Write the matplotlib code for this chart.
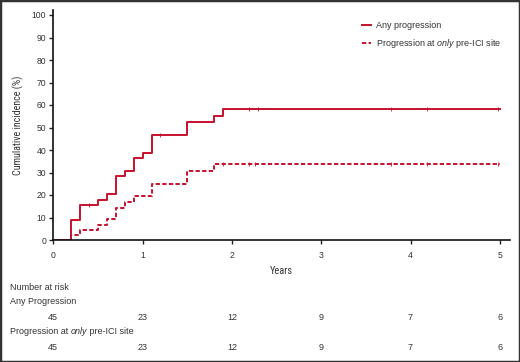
import matplotlib
matplotlib.use("Agg")
import matplotlib.pyplot as plt
from matplotlib.patches import Rectangle
from matplotlib.lines import Line2D
from matplotlib import font_manager

# cumulative incidence curves (step after each time)
any_times = [0, 0.2, 0.3, 0.5, 0.6, 0.7, 0.8, 0.9, 1.0, 1.1, 1.5, 1.8, 1.9, 5.0]
any_inc = [0, 8.9, 15.6, 17.8, 20.4, 28.3, 30.7, 36.3, 38.7, 46.7, 52.4, 55.2, 58.3, 58.3]
only_times = [0, 0.2, 0.3, 0.5, 0.6, 0.7, 0.8, 0.9, 1.1, 1.5, 1.8, 5.0]
only_inc = [0, 2.2, 4.4, 6.7, 9.3, 14.4, 17.1, 19.7, 24.9, 30.6, 33.6, 33.6]

# censoring marks
any_cens = [0.4, 1.2, 2.19, 2.29, 3.78, 4.18, 4.98]
only_cens = [1.9, 2.19, 2.26, 3.78, 4.18, 4.98]

risk_years = [0, 1, 2, 3, 4, 5]
risk_any = [45, 23, 12, 9, 7, 6]
risk_only = [45, 23, 12, 9, 7, 6]

RED = "#c8102e"
TXT = "#333333"
FONT = "Liberation Sans"
names = {f.name for f in font_manager.fontManager.ttflist}
NARROW = FONT
for cand in ["Roboto Condensed", "Open Sans Condensed", "Barlow Semi Condensed", "Barlow Condensed"]:
    if cand in names:
        NARROW = cand
        break

plt.rcParams["font.family"] = [FONT, "DejaVu Sans"]
plt.rcParams["mathtext.fontset"] = "custom"
plt.rcParams["mathtext.rm"] = FONT
plt.rcParams["mathtext.it"] = FONT + ":italic"


def value_at(times, vals, t):
    v = vals[0]
    for tt, vv in zip(times, vals):
        if tt <= t:
            v = vv
    return v


def chain_text(fig, x, y, parts, **kw):
    """ Writes text pieces one after another, each with its own style """
    renderer = fig.canvas.get_renderer()
    px = x * fig.bbox.width
    for s, style in parts:
        t = fig.text(px / fig.bbox.width, y, s, style=style, **kw)
        px = t.get_window_extent(renderer).x1


fig = plt.figure(figsize=(5.2, 3.62), dpi=100)
ax = fig.add_axes([53.3 / 520, 122 / 362, (510 - 53.3) / 520, (240 - 10) / 362])

dash = (0, (2.2, 1.2))
ax.step(any_times, any_inc, where="post", color=RED, lw=1.4)
ax.step(only_times, only_inc, where="post", color=RED, lw=1.4, ls=dash)
ax.plot(any_cens, [value_at(any_times, any_inc, t) for t in any_cens],
        ls="none", marker="|", ms=2.2, mew=0.6, color=RED)
ax.plot(only_cens, [value_at(only_times, only_inc, t) for t in only_cens],
        ls="none", marker="|", ms=2.2, mew=0.6, color=RED)

ax.set_xlim(0, (510 - 53.3) / 89.3)
ax.set_ylim(0, 230 / 2.25)
ax.set_xticks(risk_years)
ax.set_yticks(range(0, 101, 10))
ax.tick_params(labelsize=6.2, length=3, width=1, color="#222", labelcolor=TXT, pad=2)
ax.tick_params(axis="x", pad=5)
for s in ["top", "right"]:
    ax.spines[s].set_visible(False)
for s in ["left", "bottom"]:
    ax.spines[s].set_linewidth(1.2)
    ax.spines[s].set_color("#111")

ax.set_ylabel("Cumulative incidence (%)", fontsize=7.2, family=NARROW, labelpad=6, color=TXT)
fig.text(0.5 * (53.3 + 510) / 520, 1 - 271.5 / 362, "Years", fontsize=7.5,
         family=NARROW, ha="center", va="center", color=TXT)

handles = [Line2D([], [], color=RED, lw=1.4),
           Line2D([], [], color=RED, lw=1.4, ls=dash)]
labels = ["Any progression", "Progression at $\\it{only}$ pre-ICI site"]
ax.legend(handles, labels, loc="upper left", bbox_to_anchor=(362 / 520, 1 - 21 / 362),
          bbox_transform=fig.transFigure, frameon=False, fontsize=6.5, handlelength=1.05,
          handletextpad=0.55, labelspacing=0.75, borderaxespad=0, borderpad=0,
          labelcolor=TXT)

# number at risk table
trans = matplotlib.transforms.blended_transform_factory(ax.transData, fig.transFigure)
fig.text(10 / 520, 1 - 287 / 362, "Number at risk", fontsize=6.5, va="center", color=TXT)
fig.text(10 / 520, 1 - 302 / 362, "Any Progression", fontsize=6.5, va="center", color=TXT)
chain_text(fig, 10 / 520, 1 - 332 / 362,
           [("Progression at ", "normal"), ("only", "italic"), (" pre-ICI site", "normal")],
           fontsize=6.5, va="center", color=TXT)
for yr, n1, n2 in zip(risk_years, risk_any, risk_only):
    ax.text(yr, 1 - 317 / 362, str(n1), transform=trans, fontsize=6.5, ha="center",
            va="center", color=TXT)
    ax.text(yr, 1 - 347 / 362, str(n2), transform=trans, fontsize=6.5, ha="center",
            va="center", color=TXT)

fig.patches.append(Rectangle((0, 0), 1, 1, transform=fig.transFigure, fill=False,
                             edgecolor="#333", lw=2.5))

fig.savefig("out.png", dpi=100)
